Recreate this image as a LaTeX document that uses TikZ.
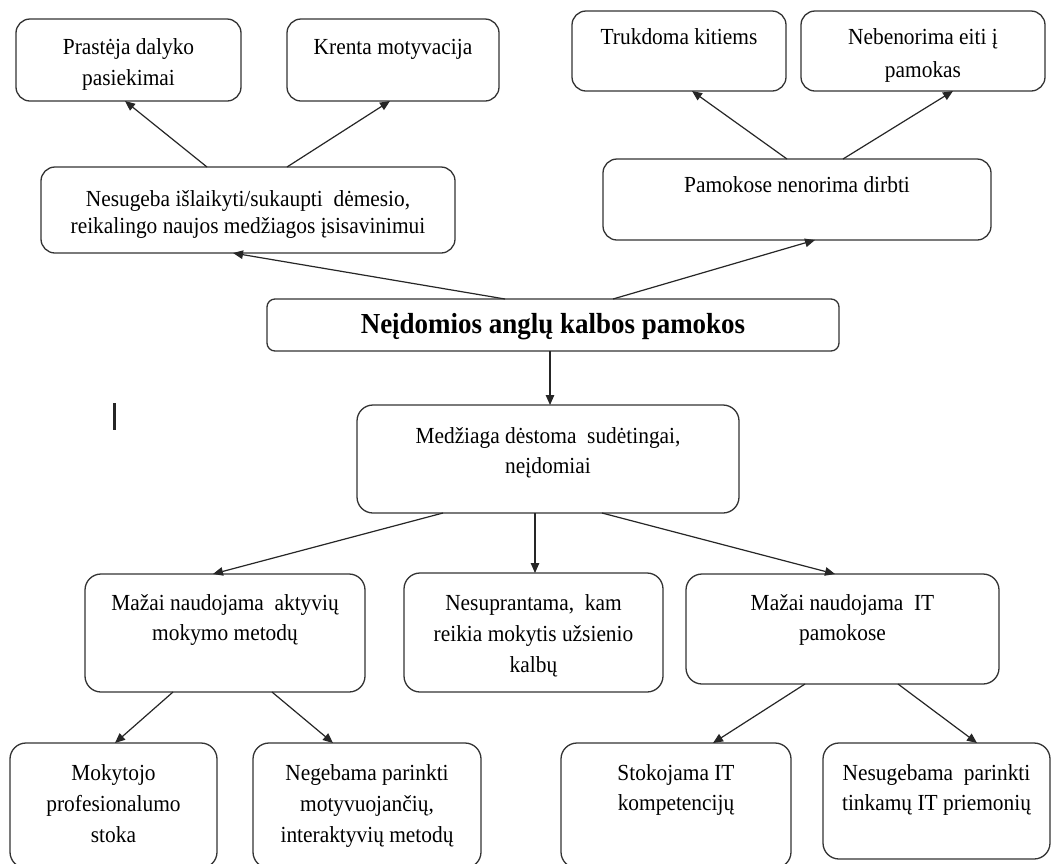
\documentclass[tikz,border=0pt]{standalone}
\usepackage{fontspec}
\setmainfont{Liberation Serif}[FakeStretch=0.93]
\usetikzlibrary{arrows.meta}
\newcommand\bt[5]{\parbox[c][#2pt][t]{#1pt}{\fontsize{23}{#4}\selectfont\centering\rule{0pt}{#3pt}#5}}
\tikzset{
  box/.style={draw=black!80, line width=1.3pt, rounded corners=14pt, inner sep=0pt, outer sep=0pt},
  arr/.style={-{Triangle[length=10pt,width=8.5pt]}, line width=1.2pt, draw=black!85},
}
\begin{document}
\begin{tikzpicture}[x=1pt,y=-1pt]
\fill[white] (0,0) rectangle (1052,863);
\useasboundingbox (0,0) rectangle (1052,863);

% top left group
\node[box] (pr) at (128.5,60) {\bt{225}{82}{35}{31}{Prastėja dalyko\\pasiekimai}};
\node[box] (kr) at (393,60) {\bt{212}{82}{35}{31}{Krenta motyvacija}};
\node[box] (ns) at (248,210) {\bt{414}{86}{39}{27}{Nesugeba išlaikyti/sukaupti\ \ dėmesio,\\reikalingo naujos medžiagos įsisavinimui}};

% top right group
\node[box] (tr) at (679,51) {\bt{214}{80}{33}{31}{Trukdoma kitiems}};
\node[box] (ne) at (923,51) {\bt{244}{80}{33}{33}{Nebenorima eiti į\\pamokas}};
\node[box] (pa) at (797,199.5) {\bt{388}{81}{33}{31}{Pamokose nenorima dirbti}};

% main
\node[box, rounded corners=8pt] (main) at (553,325) {\parbox[c][52pt][t]{572pt}{\fontsize{29}{32}\selectfont\bfseries\centering\rule{0pt}{34pt}Neįdomios anglų kalbos pamokos}};

% middle
\node[box, rounded corners=16pt] (md) at (548,459) {\bt{382}{108}{38}{30}{Medžiaga dėstoma\ \ sudėtingai,\\neįdomiai}};

% third row
\node[box, rounded corners=16pt] (ma) at (225,633) {\bt{280}{118}{36}{30}{Mažai naudojama\ \ aktyvių\\mokymo metodų}};
\node[box, rounded corners=16pt] (nu) at (533.5,632.5) {\bt{259}{119}{37}{31}{Nesuprantama,\ \ kam\\reikia mokytis užsienio\\kalbų}};
\node[box, rounded corners=16pt] (mi) at (842.5,629) {\bt{313}{110}{36}{30}{Mažai naudojama\ \ IT\\pamokose}};

% bottom row
\node[box, rounded corners=16pt] (mo) at (113.5,805.5) {\bt{207}{125}{37}{31}{Mokytojo\\profesionalumo\\stoka}};
\node[box, rounded corners=16pt] (neg) at (367,805.5) {\bt{228}{125}{37}{31}{Negebama parinkti\\motyvuojančių,\\interaktyvių metodų}};
\node[box, rounded corners=16pt] (st) at (676,805.5) {\bt{230}{125}{37}{30}{Stokojama IT\\kompetencijų}};
\node[box, rounded corners=16pt] (nsg) at (936.5,801) {\bt{227}{116}{37}{30}{Nesugebama\ \ parinkti\\tinkamų IT priemonių}};

% stray mark
\fill[black!85] (113,403) rectangle (115.5,430);

% connectors
\draw[arr] ([xshift=-41pt]ns.north) -- ([xshift=-3.5pt]pr.south);
\draw[arr] ([xshift=39pt]ns.north) -- ([xshift=-3pt]kr.south);
\draw[arr] ([xshift=-10pt]pa.north) -- ([xshift=13pt]tr.south);
\draw[arr] ([xshift=46pt]pa.north) -- ([xshift=30pt]ne.south);
\draw[arr] ([xshift=-48pt]main.north) -- ([xshift=-15pt]ns.south);
\draw[arr] ([xshift=60pt]main.north) -- ([xshift=18pt]pa.south);
\draw[arr] ([xshift=-3pt]main.south) -- ([xshift=2pt]md.north);
\draw[arr] ([xshift=-105pt]md.south) -- ([xshift=-12pt]ma.north);
\draw[arr] ([xshift=-13pt]md.south) -- ([xshift=1.5pt]nu.north);
\draw[arr] ([xshift=54pt]md.south) -- ([xshift=-7.5pt]mi.north);
\draw[arr] ([xshift=-52pt]ma.south) -- ([xshift=1.5pt]mo.north);
\draw[arr] ([xshift=47pt]ma.south) -- ([xshift=-34pt]neg.north);
\draw[arr] ([xshift=-37.5pt]mi.south) -- ([xshift=37pt]st.north);
\draw[arr] ([xshift=55.5pt]mi.south) -- ([xshift=40.5pt]nsg.north);
\end{tikzpicture}
\end{document}
